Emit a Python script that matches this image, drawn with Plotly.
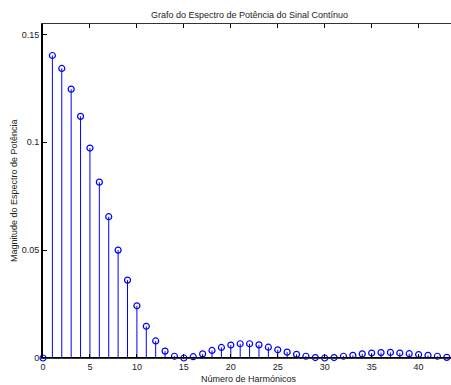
import plotly.graph_objects as go

# Harmonic index and power-spectrum magnitude of each harmonic
harmonics = list(range(0, 44))
magnitude = [
    0.0, 0.1402, 0.1342, 0.1246, 0.1120, 0.0973, 0.0815, 0.0655, 0.0500, 0.0361,
    0.0242, 0.0147, 0.0079, 0.0032, 0.0008, 0.0, 0.0006, 0.0019, 0.0035, 0.0049,
    0.0060, 0.0066, 0.0066, 0.0061, 0.0050, 0.0038, 0.0027, 0.0017, 0.0008, 0.0002,
    0.0, 0.0002, 0.0008, 0.0012, 0.0019, 0.0023, 0.0025, 0.0026, 0.0023, 0.0020,
    0.0016, 0.0012, 0.0008, 0.0003,
]
x_ticks = [0, 5, 10, 15, 20, 25, 30, 35, 40]
y_ticks = [0, 0.05, 0.1, 0.15]
y_tick_text = ["0", "0.05", "0.1", "0.15"]

title_text = "Grafo do Espectro de Potência do Sinal Contínuo"
x_label = "Número de Harmónicos"
y_label = "Magnitude do Espectro de Potência"

FONT = "Liberation Sans, Arial, Helvetica, sans-serif"
BLUE = "#0000ff"

# stems: one vertical segment per harmonic, from the baseline up to the value
stem_x, stem_y = [], []
for h, m in zip(harmonics, magnitude):
    stem_x += [h, h, None]
    stem_y += [0, m, None]

fig = go.Figure()
fig.add_trace(go.Scatter(
    x=stem_x, y=stem_y, mode="lines",
    line=dict(color=BLUE, width=1), hoverinfo="skip", showlegend=False,
))
fig.add_trace(go.Scatter(
    x=harmonics, y=magnitude, mode="markers",
    marker=dict(symbol="circle-open", size=6, color=BLUE, line=dict(width=1.2, color=BLUE)),
    showlegend=False, cliponaxis=False,
))

# baseline of the stem plot
fig.add_shape(type="line", xref="paper", yref="y", x0=0, x1=1, y0=0, y1=0,
              line=dict(color="black", width=2))

fig.update_layout(
    width=451, height=385,
    margin=dict(l=43, r=0, t=24, b=27),
    paper_bgcolor="white", plot_bgcolor="white",
    font=dict(family=FONT, size=9, color="#111"),
    showlegend=False,
    annotations=[
        dict(text=title_text, xref="paper", yref="paper", x=0.507, y=1 + 9 / 334,
             xanchor="center", yanchor="middle", showarrow=False,
             font=dict(family=FONT, size=9, color="#222")),
        dict(text=x_label, xref="paper", yref="paper", x=0.505, y=-21 / 334,
             xanchor="center", yanchor="middle", showarrow=False,
             font=dict(family=FONT, size=9, color="#222")),
        dict(text=y_label, xref="paper", yref="paper", x=-29 / 408, y=0.5,
             xanchor="center", yanchor="middle", textangle=-90, showarrow=False,
             font=dict(family=FONT, size=9, color="#222")),
    ],
)
fig.update_xaxes(
    range=[0, 43.45], tickvals=x_ticks, ticks="inside", ticklen=4, tickwidth=1,
    tickcolor="black", showline=True, linecolor="#333", linewidth=1, mirror="ticks",
    showgrid=False, zeroline=False, tickfont=dict(size=9, color="#222"),
)
fig.update_yaxes(
    range=[0, 0.1548], tickvals=y_ticks, ticktext=y_tick_text, ticks="inside",
    ticklen=4, tickwidth=1, tickcolor="black", showline=True, linecolor="black",
    linewidth=2, showgrid=False, zeroline=False, tickfont=dict(size=9, color="#222"),
)

fig.write_html("out.html")
